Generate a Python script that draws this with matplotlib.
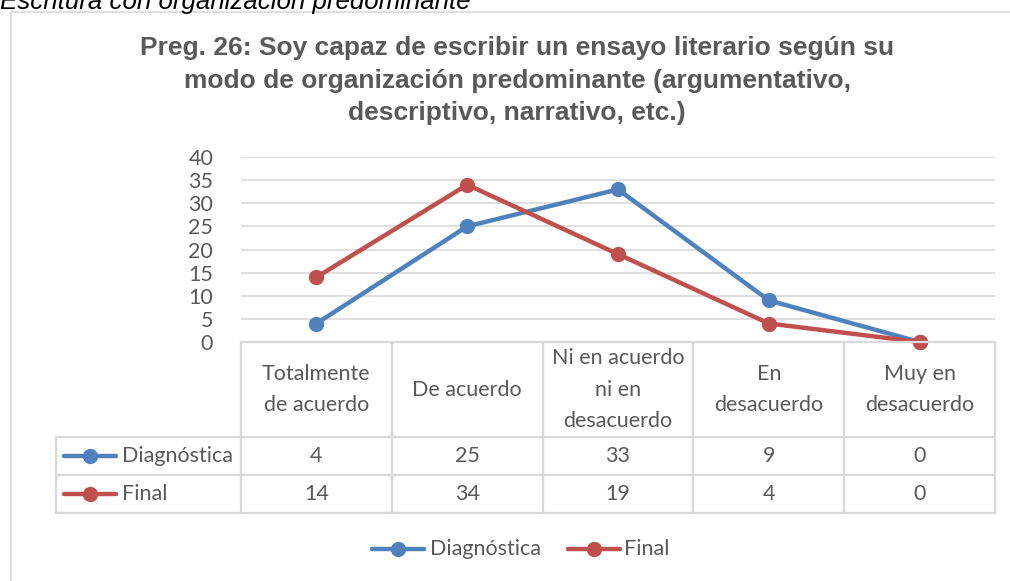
import matplotlib
matplotlib.use('Agg')
import matplotlib.pyplot as plt
from matplotlib.lines import Line2D
from matplotlib.transforms import blended_transform_factory

# ---------------- data ----------------
categories = ["Totalmente\nde acuerdo", "De acuerdo", "Ni en acuerdo\nni en\ndesacuerdo",
              "En\ndesacuerdo", "Muy en\ndesacuerdo"]
diagnostica = [4, 25, 33, 9, 0]
final = [14, 34, 19, 4, 0]
series_names = ["Diagnóstica", "Final"]
yticks = [0, 5, 10, 15, 20, 25, 30, 35, 40]
title_lines = ["Preg. 26: Soy capaz de escribir un ensayo literario según su",
               "modo de organización predominante (argumentativo,",
               "descriptivo, narrativo, etc.)"]
top_text = "Escritura con organización predominante"

# ---------------- style ----------------
BLUE = "#4F81BD"
RED = "#C0504D"
GRID = "#D9D9D9"
TXT = "#595959"
FONT = "Lato"
FS = 15.5

W, H = 1010, 581
fig = plt.figure(figsize=(W / 100, H / 100), dpi=100)


def fx(x):
    return x / W


def fy(y):
    return 1 - y / H


# outer chart border (top and left only visible)
fig.add_artist(Line2D([fx(11), fx(11)], [fy(12), fy(581)], transform=fig.transFigure,
                      color=GRID, lw=1.2))
fig.add_artist(Line2D([fx(11), fx(1010)], [fy(12), fy(12)], transform=fig.transFigure,
                      color=GRID, lw=1.2))

# cropped italic caption at very top
fig.text(fx(0), fy(9), top_text, transform=fig.transFigure, fontsize=18.6,
         family="Liberation Sans", style="italic", color="#000000",
         ha="left", va="baseline")

# title
for line, yy in zip(title_lines, [48, 81, 113]):
    fig.text(fx(517), fy(yy), line, ha="center", va="center", fontsize=19,
             family="Liberation Sans", weight="bold", color=TXT)

# plot area
ax = fig.add_axes([fx(241), fy(342), (995 - 241) / W, (342 - 157) / H])
xs = list(range(len(categories)))
ax.plot(xs, diagnostica, color=BLUE, lw=3.2, marker="o", ms=10,
        solid_capstyle="round", solid_joinstyle="round", clip_on=False, zorder=3)
ax.plot(xs, final, color=RED, lw=3.2, marker="o", ms=10,
        solid_capstyle="round", solid_joinstyle="round", clip_on=False, zorder=4)
ax.set_xlim(-0.5, len(categories) - 0.5)
ax.set_ylim(0, 40)
ax.set_yticks(yticks)
ax.set_xticks([])
ax.grid(axis="y", color=GRID, lw=1.2)
ax.set_axisbelow(True)
for s in ax.spines.values():
    s.set_visible(False)
ax.tick_params(axis="y", length=0, pad=20, labelsize=FS, labelcolor=TXT)
for lab in ax.get_yticklabels():
    lab.set_family(FONT)

# ---------------- data table ----------------
bt = blended_transform_factory(ax.transData, fig.transFigure)
TLW = 1.6
for i in range(len(categories) + 1):
    xv = i - 0.5
    fig.add_artist(Line2D([xv, xv], [fy(342), fy(513)], transform=bt, color=GRID, lw=TLW))
fig.add_artist(Line2D([fx(56), fx(56)], [fy(437), fy(513)], transform=fig.transFigure,
                      color=GRID, lw=TLW))
fig.add_artist(Line2D([-0.5, len(categories) - 0.5], [fy(342), fy(342)], transform=bt,
                      color=GRID, lw=TLW))
for yy in [437, 475, 513]:
    fig.add_artist(Line2D([fx(56), fx(995)], [fy(yy), fy(yy)], transform=fig.transFigure,
                          color=GRID, lw=TLW))

for i, cat in enumerate(categories):
    fig.text(i, fy(389.5), cat, transform=bt, ha="center", va="center", fontsize=FS,
             family=FONT, color=TXT, linespacing=1.72)

row_y = [456, 494]
colors = [BLUE, RED]
for vals, name, col, yy in zip([diagnostica, final], series_names, colors, row_y):
    fig.add_artist(Line2D([fx(64), fx(116)], [fy(yy), fy(yy)], transform=fig.transFigure,
                          color=col, lw=3.2, solid_capstyle="round"))
    fig.add_artist(Line2D([fx(90)], [fy(yy)], transform=fig.transFigure, color=col,
                          marker="o", ms=10, lw=0))
    fig.text(fx(122), fy(yy), name, ha="left", va="center", fontsize=FS, family=FONT,
             color=TXT)
    for i, v in enumerate(vals):
        fig.text(i, fy(yy), str(v), transform=bt, ha="center", va="center", fontsize=FS,
                 family=FONT, color=TXT)

# ---------------- bottom legend ----------------
leg_items = [(series_names[0], BLUE, 372, 424, 398, 430),
             (series_names[1], RED, 568, 620, 594, 624)]
for name, col, x0, x1, xm, xt in leg_items:
    fig.add_artist(Line2D([fx(x0), fx(x1)], [fy(549), fy(549)], transform=fig.transFigure,
                          color=col, lw=3.2, solid_capstyle="round"))
    fig.add_artist(Line2D([fx(xm)], [fy(549)], transform=fig.transFigure, color=col,
                          marker="o", ms=10, lw=0))
    fig.text(fx(xt), fy(549), name, ha="left", va="center", fontsize=FS, family=FONT,
             color=TXT)

fig.savefig("out.png", dpi=100, facecolor="white")
